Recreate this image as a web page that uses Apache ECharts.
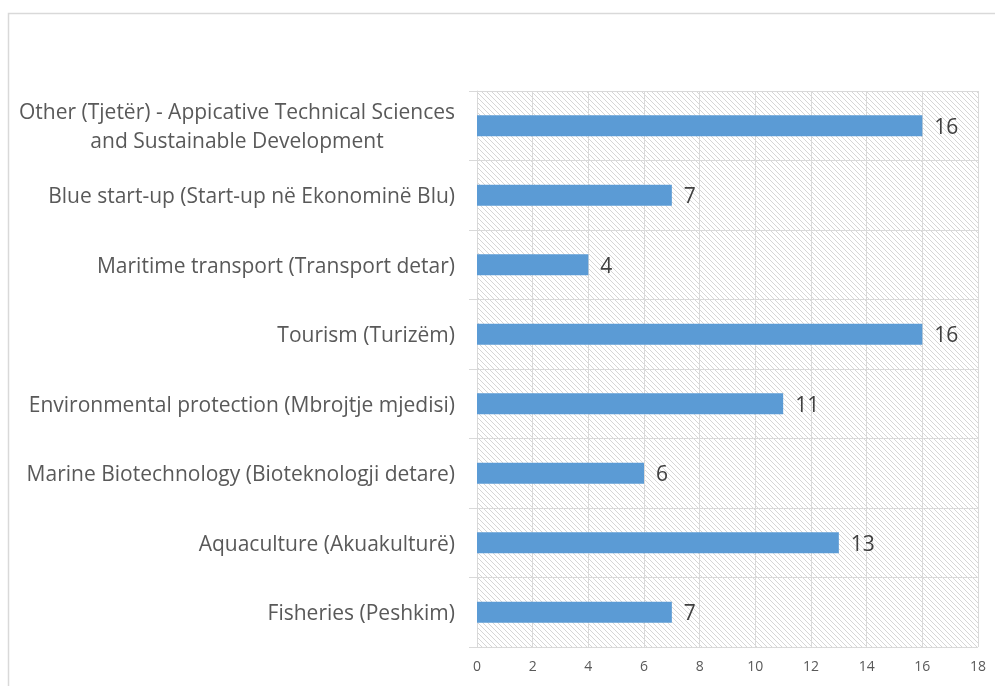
<!DOCTYPE html>
<html>
<head>
<meta charset="utf-8">
<script src="https://cdn.jsdelivr.net/npm/echarts@6/dist/echarts.min.js"></script>
<style>
    html, body { margin: 0; padding: 0; background: #ffffff; }
    #chart { width: 995px; height: 686px; }
</style>
</head>
<body>
<div id="chart"></div>
<script>
// categories, bottom to top as the category axis draws them
const categories = [
    'Fisheries (Peshkim)',
    'Aquaculture (Akuakulturë)',
    'Marine Biotechnology (Bioteknologji detare)',
    'Environmental protection (Mbrojtje mjedisi)',
    'Tourism (Turizëm)',
    'Maritime transport (Transport detar)',
    'Blue start-up (Start-up në Ekonominë Blu)',
    'Other (Tjetër) - Appicative Technical Sciences\nand Sustainable Development'
];
const values = [7, 13, 6, 11, 16, 4, 7, 16];
const xTicks = [0, 2, 4, 6, 8, 10, 12, 14, 16, 18];

// hatched plot background
function hatch() {
    const c = document.createElement('canvas');
    c.width = 5;
    c.height = 5;
    const g = c.getContext('2d');
    g.fillStyle = '#ffffff';
    g.fillRect(0, 0, 5, 5);
    g.strokeStyle = '#d6d6d6';
    g.lineWidth = 1;
    g.beginPath();
    g.moveTo(-1, -1); g.lineTo(6, 6);
    g.moveTo(-1, 4); g.lineTo(1, 6);
    g.moveTo(4, -1); g.lineTo(6, 1);
    g.stroke();
    return c;
}

const chart = echarts.init(document.getElementById('chart'));
const font = '"Open Sans", sans-serif';

chart.setOption({
    animation: false,
    backgroundColor: '#ffffff',
    textStyle: { fontFamily: font },
    graphic: [{
        type: 'rect',
        shape: { x: 8.5, y: 13.5, width: 1000, height: 700 },
        style: { fill: 'none', stroke: '#d9d9d9', lineWidth: 1.5 },
        silent: true
    }],
    grid: {
        left: 477, right: 17, top: 91, bottom: 39,
        show: true,
        borderWidth: 0,
        backgroundColor: { image: hatch(), repeat: 'repeat' }
    },
    xAxis: {
        type: 'value',
        min: xTicks[0],
        max: xTicks[xTicks.length - 1],
        interval: 2,
        axisLine: { show: false },
        axisTick: { show: false },
        axisLabel: { color: '#595959', fontSize: 14, margin: 13, fontFamily: font },
        splitLine: { show: true, lineStyle: { color: '#d9d9d9', width: 1 } }
    },
    yAxis: {
        type: 'category',
        data: categories,
        axisLine: { show: true, lineStyle: { color: '#d9d9d9', width: 1 } },
        axisTick: { show: true, length: 8, lineStyle: { color: '#d9d9d9' } },
        splitLine: { show: true, lineStyle: { color: '#d9d9d9', width: 1 } },
        axisLabel: {
            margin: 22,
            color: '#595959',
            fontSize: 21,
            lineHeight: 29,
            padding: [4, 0, 0, 0],
            fontFamily: font,
            formatter: function (v) {
                return v.split('\n').map(function (s) { return '{c|' + s + '}'; }).join('\n');
            },
            rich: {
                c: { align: 'center', color: '#595959', fontSize: 21, lineHeight: 29, fontFamily: font }
            }
        }
    },
    series: [{
        type: 'bar',
        data: values,
        barWidth: '30%',
        itemStyle: { color: '#5b9bd5' },
        label: {
            show: true,
            position: 'right',
            distance: 12,
            offset: [0, 2],
            color: '#404040',
            fontSize: 21,
            fontFamily: font
        }
    }]
});
</script>
</body>
</html>
